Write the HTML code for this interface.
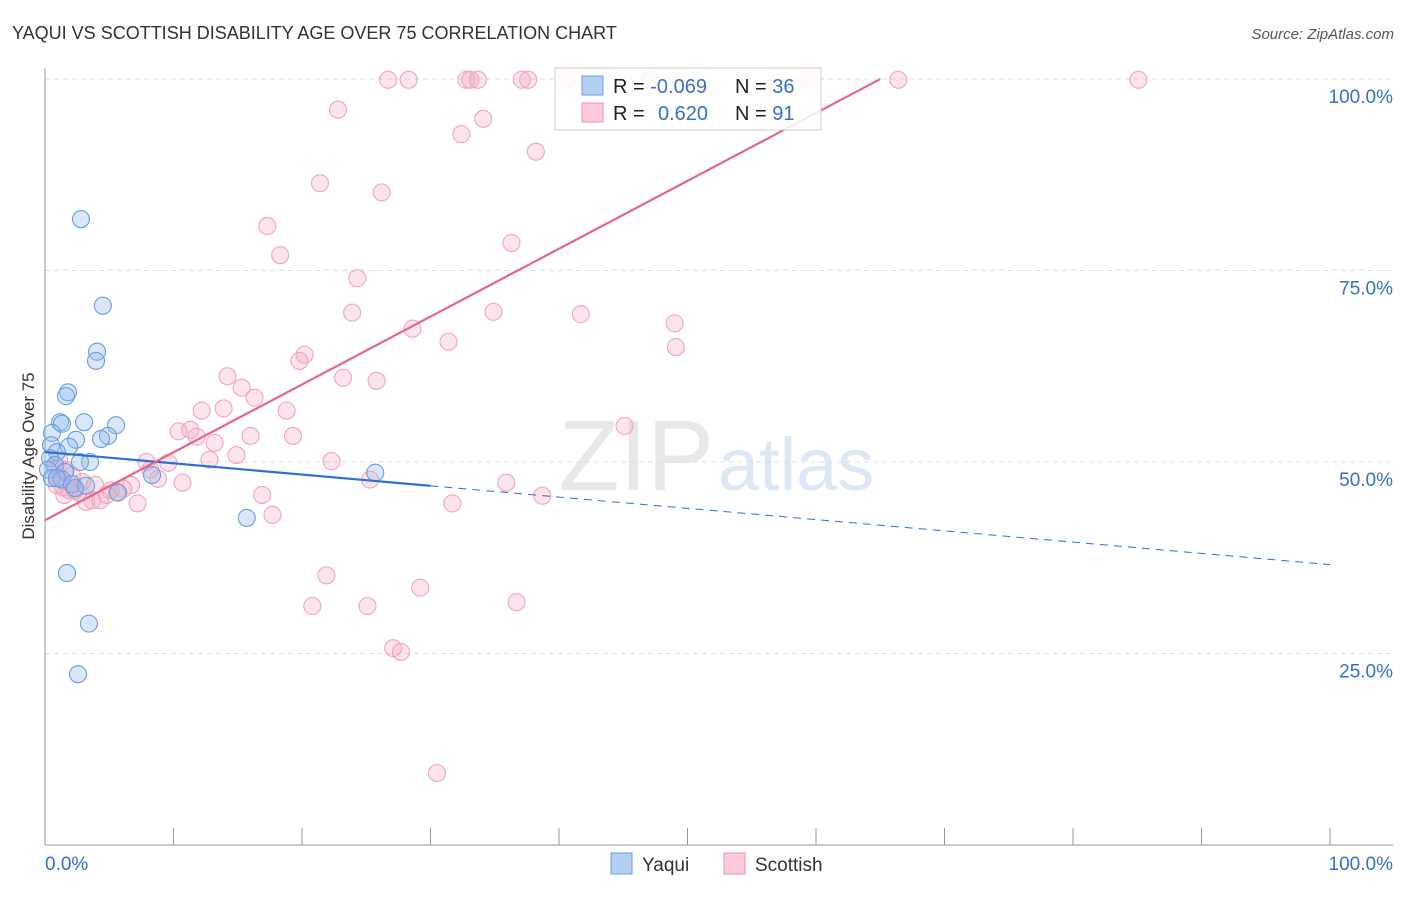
<!DOCTYPE html>
<html><head><meta charset="utf-8"><style>
body{margin:0;background:#fff;font-family:"Liberation Sans",sans-serif}
svg text{font-family:"Liberation Sans",sans-serif}
</style></head><body>
<svg id="c" width="1406" height="892">
<text x="12" y="39" font-size="18" fill="#333">YAQUI VS SCOTTISH DISABILITY AGE OVER 75 CORRELATION CHART</text>
<text x="1394" y="39" font-size="15" fill="#555" font-style="italic" text-anchor="end">Source: ZipAtlas.com</text>
<text x="714" y="490" font-size="100" fill="#e8e8e8" font-family="Liberation Serif" text-anchor="end">ZIP</text>
<text x="718" y="490" font-size="74" fill="#dde7f5">atlas</text>
<text transform="translate(34,456) rotate(-90)" font-size="17" fill="#333" text-anchor="middle">Disability Age Over 75</text>
<g id="grid"></g><g id="pts"></g><g id="lines"></g>
<g>
<rect x="555" y="68" width="266" height="62" fill="rgba(255,255,255,0.85)" stroke="#ccc"/>
<rect x="582" y="76" width="21" height="19" fill="#b5cff2" stroke="#6a9de0"/>
<rect x="582" y="103" width="21" height="19" fill="#fbcbd9" stroke="#ec8fae"/>
<text x="613" y="93" font-size="20" fill="#222">R = <tspan fill="#3a6fd0">-0.069</tspan></text>
<text x="735" y="93" font-size="20" fill="#222">N = <tspan fill="#3a6fd0">36</tspan></text>
<text x="613" y="120" font-size="20" fill="#222">R = </text>
<text x="658" y="120" font-size="20" fill="#3a6fd0">0.620</text>
<text x="735" y="120" font-size="20" fill="#222">N = <tspan fill="#3a6fd0">91</tspan></text>
</g>
<g>
<rect x="611" y="853" width="21" height="21" fill="#b5cff2" stroke="#6a9de0"/>
<text x="642" y="871" font-size="19" fill="#333">Yaqui</text>
<rect x="724" y="853" width="21" height="21" fill="#fbcbd9" stroke="#ec8fae"/>
<text x="755" y="871" font-size="19" fill="#333">Scottish</text>
</g>
</svg>
<script>
const yTicks=[25,50,75,100];
const yTickLabels=["25.0%","50.0%","75.0%","100.0%"];
const xTickLabels=["0.0%","100.0%"];
const yaquiX=[2.8,4.5,4.05,3.97,1.79,1.63,1.17,3.04,5.53,1.32,4.9,4.36,2.41,1.87,0.54,0.47,0.93,3.5,2.72,0.39,0.78,1.56,0.23,0.54,1.32,2.1,3.19,2.33,5.68,8.33,25.7,15.7,1.71,3.42,2.57,0.93];
const yaquiY=[81.7,70.4,64.4,63.2,59.1,58.6,55.2,55.2,54.8,55.0,53.4,53.0,52.9,52.0,53.8,52.2,51.3,50.0,50.0,50.5,49.6,48.7,49.0,47.9,47.7,47.1,46.9,46.6,46.0,48.3,48.6,42.7,35.5,28.9,22.3,47.9];
const scotX=[26.7,28.3,32.8,33.1,33.7,37.1,37.6,40.6,47.1,59.4,66.4,85.1,22.8,34.1,32.4,38.2,21.4,26.2,17.3,18.3,36.3,24.3,23.9,28.6,34.9,41.7,49.0,49.1,31.4,20.2,19.8,23.2,25.8,14.2,15.3,16.3,12.2,13.9,18.8,10.4,11.3,11.8,16.0,13.2,19.3,14.9,12.8,9.6,7.9,22.3,45.1,35.9,38.7,25.3,10.7,8.8,6.7,6.1,5.6,4.8,4.3,3.7,3.2,2.6,1.9,1.4,0.9,1.6,2.1,2.9,1.1,7.2,16.9,17.7,31.7,21.9,20.8,25.1,29.2,36.7,27.1,27.7,30.5,0.8,1.2,2.3,3.9,5.1,1.5,8.2];
const scotY=[99.9,99.9,99.9,99.9,99.9,99.9,99.9,99.9,99.9,99.9,99.9,99.9,96.0,94.8,92.8,90.5,86.4,85.2,80.8,77.0,78.6,74.0,69.5,67.4,69.6,69.3,68.1,65.0,65.7,64.0,63.2,61.0,60.6,61.2,59.7,58.4,56.7,57.0,56.7,54.0,54.2,53.3,53.4,52.5,53.4,50.9,50.3,49.9,50.0,50.1,54.7,47.3,45.6,47.7,47.3,47.8,47.0,46.5,46.1,45.7,45.0,45.0,44.8,46.0,46.3,46.7,47.0,49.0,48.3,47.4,50.3,44.6,45.7,43.1,44.6,35.2,31.2,31.2,33.6,31.7,25.7,25.2,9.4,49.0,47.9,46.3,47.0,46.3,45.7,49.0];
const yaquiTrend=[51.3,36.6];
const yaquiSolidEnd=30;
const scotTrend=[42.4,0.886];
const scotTrendEnd=65;
const X=v=>45+v*12.85, Y=v=>845-v*7.66;
const NS="http://www.w3.org/2000/svg";
function mk(t,a,p){const e=document.createElementNS(NS,t);for(const k in a)e.setAttribute(k,a[k]);p.appendChild(e);return e;}
const grid=document.getElementById('grid');
yTicks.forEach((t,i)=>{
 const l=mk('line',{x1:45,x2:1393,y1:Y(t),y2:Y(t),stroke:'#ddd','stroke-dasharray':'5,4'},grid);
 
 
 const tx=mk('text',{x:1393,y:Y(t)+24,'font-size':19,fill:'#3a6fd0','text-anchor':'end'},grid);
 tx.textContent=yTickLabels[i];
 
 
});
const ax=mk('line',{x1:45,x2:45,y1:68,y2:845,stroke:'#999'},grid);


const bx=mk('line',{x1:45,x2:1393,y1:845,y2:845,stroke:'#999'},grid);


for(let i=0;i<=10;i++){const t=mk('line',{x1:X(i*10),x2:X(i*10),y1:828,y2:845,stroke:'#999'},grid);
 
 }
[[0,'start'],[100,'end']].forEach((d,i)=>{const t=mk('text',{x:X(d[0])+(i?63:0),y:870,'font-size':19,fill:'#3a6fd0','text-anchor':d[1]},grid);
 t.textContent=xTickLabels[i];
 
 });
const pts=document.getElementById('pts');
scotX.forEach((x,i)=>{const c=mk('circle',{cx:X(x),cy:Y(scotY[i]),r:8.5,fill:'rgba(245,165,190,0.3)',stroke:'#f0a5bf','stroke-width':1.1},pts);
 
 });
yaquiX.forEach((x,i)=>{const c=mk('circle',{cx:X(x),cy:Y(yaquiY[i]),r:8.5,fill:'rgba(150,185,235,0.35)',stroke:'#6a9de0','stroke-width':1.1},pts);
 
 });
const L=document.getElementById('lines');
const by=x=>yaquiTrend[0]+(yaquiTrend[1]-yaquiTrend[0])*x/100;
const t1=mk('line',{x1:X(0),y1:Y(by(0)),x2:X(yaquiSolidEnd),y2:Y(by(yaquiSolidEnd)),stroke:'#2e6fd6','stroke-width':2.2},L);


const t2=mk('line',{x1:X(yaquiSolidEnd),y1:Y(by(yaquiSolidEnd)),x2:X(100),y2:Y(by(100)),stroke:'#2e6fd6','stroke-width':1,'stroke-dasharray':'8,6'},L);


const t3=mk('line',{x1:X(0),y1:Y(scotTrend[0]),x2:X(scotTrendEnd),y2:Y(scotTrend[0]+scotTrend[1]*scotTrendEnd),stroke:'#e8648f','stroke-width':2.2},L);


</script>
</body></html>
